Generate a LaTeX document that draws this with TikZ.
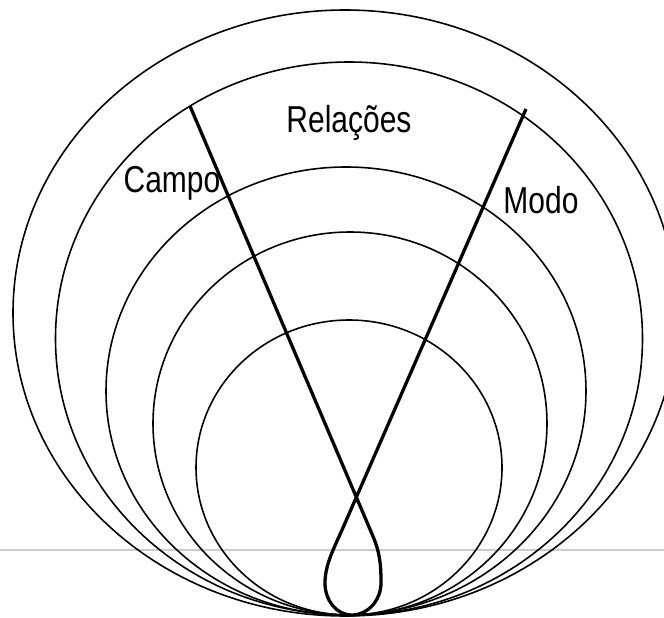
\documentclass[tikz,border=0pt]{standalone}
\usepackage{fontspec}
\setmainfont{Liberation Sans}
\usetikzlibrary{positioning}

\begin{document}
\begin{tikzpicture}[
  x=0.03cm, y=-0.03cm,
  ring/.style={draw, line width=1.35pt},
  axis/.style={draw, line width=2.8pt, line join=round},
  rule/.style={draw=black!20, line width=2pt},
  label/.style={font=\fontsize{32}{36}\selectfont, xscale=0.8, anchor=base, inner sep=0pt}
]
\useasboundingbox (0,0) rectangle (664,618);
\clip (0,0) rectangle (664,618);

% horizontal rule behind the rings
\draw[rule] (0,550) -- (664,550);

% nested rings, all resting on the bottom
\draw[ring] (345,313) ellipse [x radius=332, y radius=303];
\draw[ring] (349,338.5) ellipse [x radius=293.5, y radius=276.5];
\draw[ring] (346,391) ellipse [x radius=240, y radius=224];
\draw[ring] (350,423.5) ellipse [x radius=197, y radius=191.5];
\draw[ring] (349,467.5) ellipse [x radius=153, y radius=147.5];

% the two arms with the loop at the bottom
\coordinate (campotop) at (190,106);
\coordinate (modotop) at (526,109);
\draw[axis] (campotop) -- (372,534)
  .. controls (380,552) and (381,565) .. (381,583)
  .. controls (381,600) and (368,615) .. (352,615)
  .. controls (336,615) and (325,600) .. (325,583)
  .. controls (325,565) and (334,548) .. (342,530)
  -- (modotop);

\node[label] (relacoes) at (349,132) {Relações};
\node[label] (campo) at (172,192) {Campo};
\node[label] (modo) at (541,213) {Modo};
\end{tikzpicture}
\end{document}
